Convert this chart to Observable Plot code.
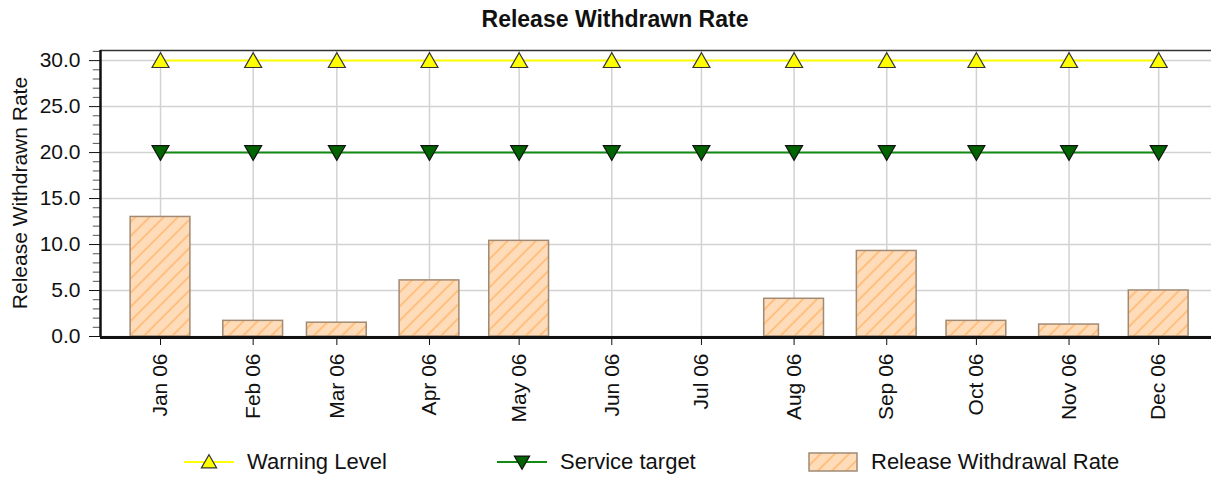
<!DOCTYPE html>
<html>
<head>
<meta charset="utf-8">
<script src="https://cdn.jsdelivr.net/npm/d3@7"></script>
<script src="https://cdn.jsdelivr.net/npm/@observablehq/plot@0.6"></script>
<style>
  body { margin: 0; background: #fff; font-family: "Liberation Sans", Arial, sans-serif; }
  #wrap { position: relative; width: 1211px; height: 477px; overflow: hidden; background: #fff; }
  #title { position: absolute; left: 0; width: 1230px; top: 6px; text-align: center; font-weight: bold; font-size: 23px; color: #111; }
  #chart { position: absolute; left: 0; top: 40px; }
  #ylabel { position: absolute; left: 20px; top: 193px; white-space: nowrap; font-size: 21px; color: #111;
            transform: translate(-50%, -50%) rotate(-90deg); }
  .leg { position: absolute; top: 449px; height: 26px; display: flex; align-items: center; font-size: 22px; color: #111; }
  .leg svg { margin-right: 11px; }
</style>
</head>
<body>
<div id="wrap">
  <div id="title">Release Withdrawn Rate</div>
  <div id="chart"></div>
  <div id="ylabel"></div>
  <div id="legend"></div>
</div>
<script>
// ---- data ----
const months = ["2006-01-01","2006-02-01","2006-03-01","2006-04-01","2006-05-01","2006-06-01",
                "2006-07-01","2006-08-01","2006-09-01","2006-10-01","2006-11-01","2006-12-01"];
const withdrawalRate = [13.0, 1.7, 1.5, 6.1, 10.4, 0, 0, 4.1, 9.3, 1.7, 1.3, 5.0];
const warningLevel   = [30, 30, 30, 30, 30, 30, 30, 30, 30, 30, 30, 30];
const serviceTarget  = [20, 20, 20, 20, 20, 20, 20, 20, 20, 20, 20, 20];
const yTicks = [0, 5, 10, 15, 20, 25, 30];
const yMinorTicks = [1,2,3,4,6,7,8,9,11,12,13,14,16,17,18,19,21,22,23,24,26,27,28,29,31];
const seriesNames = ["Warning Level", "Service target", "Release Withdrawal Rate"];
const yAxisTitle = "Release Withdrawn Rate";

// ---- config ----
const xDomain = [new Date(Date.UTC(2005, 11, 11, 22)), new Date(Date.UTC(2006, 11, 18, 16))];
const yMax = 31.1;
const dates = months.map(s => new Date(s + "T00:00:00Z"));
const rows = dates.map((d, i) => ({
  date: d,
  x1: d3.utcHour.offset(d, -240),
  x2: d3.utcHour.offset(d, 240),
  rate: withdrawalRate[i],
  warn: warningLevel[i],
  target: serviceTarget[i]
}));
const minorX1 = d3.utcHour.offset(xDomain[0], -58);

const chart = Plot.plot({
  width: 1211,
  height: 396,
  marginLeft: 100,
  marginRight: 0,
  marginTop: 10,
  marginBottom: 100,
  style: { fontFamily: "Liberation Sans, Arial, sans-serif", fontSize: "21px", color: "#111", background: "#fff" },
  x: {
    type: "utc", domain: xDomain, ticks: dates,
    tickFormat: d3.utcFormat("%b %y"), tickRotate: -90,
    tickSize: 9, tickPadding: 8, label: null
  },
  y: {
    domain: [0, yMax], ticks: yTicks, tickFormat: d3.format(".1f"),
    tickSize: 11, tickPadding: 9, label: null
  },
  marks: [
    Plot.ruleY(yTicks, { stroke: "#d2d2d2", strokeWidth: 1.5 }),
    Plot.ruleX(dates, { stroke: "#d2d2d2", strokeWidth: 1.5 }),
    Plot.rectY(rows, { x1: "x1", x2: "x2", y1: 0, y2: "rate", fill: "url(#hatch)", stroke: "#a08a74", strokeWidth: 1.5 }),
    Plot.lineY(rows, { x: "date", y: "warn", stroke: "#ffff00", strokeWidth: 2 }),
    Plot.lineY(rows, { x: "date", y: "target", stroke: "#138a13", strokeWidth: 2 }),
    Plot.dot(rows, { x: "date", y: "warn", symbol: "triangle", r: 6.3, fill: "#ffff00", stroke: "#333", strokeWidth: 1.2, dy: 2 }),
    Plot.dot(rows, { x: "date", y: "target", symbol: "triangle", r: 6.3, rotate: 180, fill: "#006400", stroke: "#111", strokeWidth: 1.2, dy: -2 }),
    Plot.ruleY(yMinorTicks, { x1: minorX1, x2: xDomain[0], stroke: "#555", strokeWidth: 1 }),
    Plot.ruleY([yMax], { stroke: "#333", strokeWidth: 1.5 }),
    Plot.ruleX([xDomain[0]], { stroke: "#111", strokeWidth: 2.5 }),
    Plot.ruleY([0], { stroke: "#111", strokeWidth: 3, dy: 1 })
  ]
});

// hatch pattern definition
const svgSel = d3.select(chart.tagName.toLowerCase() === "svg" ? chart : chart.querySelector("svg"));
function addHatch(sel, id) {
  const p = sel.insert("defs", ":first-child").append("pattern")
    .attr("id", id).attr("patternUnits", "userSpaceOnUse")
    .attr("width", 10).attr("height", 10).attr("patternTransform", "rotate(45)");
  p.append("rect").attr("width", 10).attr("height", 10).attr("fill", "#ffdcb9");
  p.append("line").attr("x1", 1).attr("y1", 0).attr("x2", 1).attr("y2", 10)
    .attr("stroke", "#ffb870").attr("stroke-width", 1.6);
}
addHatch(svgSel, "hatch");
document.getElementById("chart").appendChild(chart);
document.getElementById("ylabel").textContent = yAxisTitle;

// ---- legend ----
const legend = document.getElementById("legend");
const legendItems = [
  { name: seriesNames[0], left: 184, kind: "line", stroke: "#ffff00", fill: "#ffff00", mstroke: "#333", rot: 0 },
  { name: seriesNames[1], left: 497, kind: "line", stroke: "#138a13", fill: "#006400", mstroke: "#111", rot: 180 },
  { name: seriesNames[2], left: 808, kind: "box" }
];
legendItems.forEach(it => {
  const div = document.createElement("div");
  div.className = "leg";
  div.style.left = it.left + "px";
  const sw = d3.create("svg").attr("width", 52).attr("height", 22);
  if (it.kind === "line") {
    sw.append("line").attr("x1", 0).attr("x2", 50).attr("y1", 11).attr("y2", 11)
      .attr("stroke", it.stroke).attr("stroke-width", 2);
    sw.append("path").attr("d", d3.symbol(d3.symbolTriangle, 100)())
      .attr("transform", `translate(25,${it.rot ? 9.5 : 12.5}) rotate(${it.rot})`)
      .attr("fill", it.fill).attr("stroke", it.mstroke).attr("stroke-width", 1.2);
  } else {
    addHatch(sw, "hatchLeg");
    sw.append("rect").attr("x", 1).attr("y", 2).attr("width", 48).attr("height", 18)
      .attr("fill", "url(#hatchLeg)").attr("stroke", "#a08a74").attr("stroke-width", 1.5);
  }
  div.appendChild(sw.node());
  const span = document.createElement("span");
  span.textContent = it.name;
  div.appendChild(span);
  legend.appendChild(div);
});
</script>
</body>
</html>
